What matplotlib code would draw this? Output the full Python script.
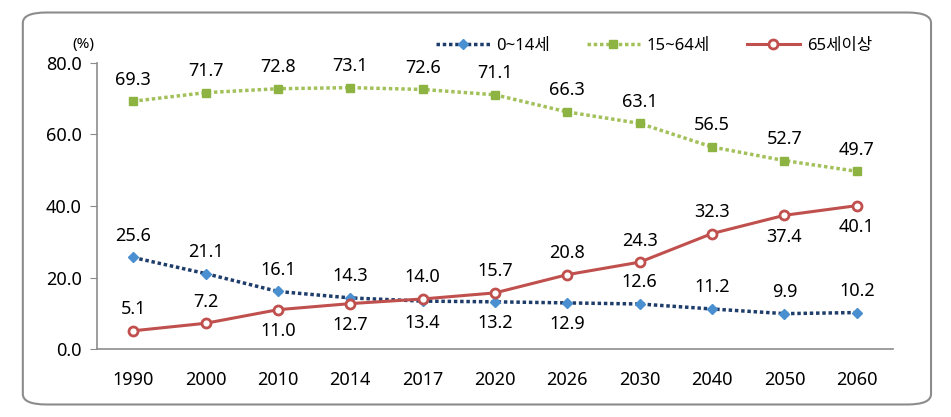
import matplotlib.pyplot as plt
from matplotlib.patches import FancyBboxPatch

plt.rcParams['font.family'] = ['Noto Sans', 'Noto Sans CJK KR', 'DejaVu Sans']

years = ['1990', '2000', '2010', '2014', '2017', '2020', '2026', '2030', '2040', '2050', '2060']
child = [25.6, 21.1, 16.1, 14.3, 13.4, 13.2, 12.9, 12.6, 11.2, 9.9, 10.2]
working = [69.3, 71.7, 72.8, 73.1, 72.6, 71.1, 66.3, 63.1, 56.5, 52.7, 49.7]
elderly = [5.1, 7.2, 11.0, 12.7, 14.0, 15.7, 20.8, 24.3, 32.3, 37.4, 40.1]
# label above (1) or below (-1) the point
child_side = [1, 1, 1, 1, -1, -1, -1, 1, 1, 1, 1]
elderly_side = [1, 1, -1, -1, 1, 1, 1, 1, 1, -1, -1]

fig = plt.figure(figsize=(9.51, 4.17), dpi=100)
box = FancyBboxPatch((0.024, 0.03), 0.955, 0.94, boxstyle='round,pad=0,rounding_size=0.025',
                     transform=fig.transFigure, fill=False, edgecolor='#8c8c8c', lw=1.5)
fig.patches.append(box)

ax = fig.add_axes([0.102, 0.163, 0.837, 0.686])
x = list(range(len(years)))

ax.plot(x, child, color='#1f3d6b', ls=(0, (1, 0.8)), lw=2.5, marker='D', ms=5.5,
        mfc='#4a8fd0', mec='#4a8fd0', label='0~14세')
ax.plot(x, working, color='#a3c15a', ls=(0, (1, 0.8)), lw=2.5, marker='s', ms=5.5,
        mfc='#8db443', mec='#8db443', label='15~64세')
ax.plot(x, elderly, color='#c0504d', lw=2.2, marker='o', ms=6.5, mfc='white',
        mec='#c0504d', mew=2, label='65세이상')

fs = 13
for i in x:
    ax.annotate(f'{working[i]:.1f}', (i, working[i]), xytext=(0, 9), textcoords='offset points',
                ha='center', va='bottom', fontsize=fs)
    ax.annotate(f'{child[i]:.1f}', (i, child[i]), xytext=(0, 9 * child_side[i]),
                textcoords='offset points', ha='center',
                va='bottom' if child_side[i] > 0 else 'top', fontsize=fs)
    ax.annotate(f'{elderly[i]:.1f}', (i, elderly[i]), xytext=(0, 9 * elderly_side[i]),
                textcoords='offset points', ha='center',
                va='bottom' if elderly_side[i] > 0 else 'top', fontsize=fs)

ax.set_xlim(-0.5, len(years) - 0.5)
ax.set_ylim(0, 80)
ax.set_yticks([0, 20, 40, 60, 80])
ax.set_yticklabels([f'{v:.1f}' for v in [0, 20, 40, 60, 80]], fontsize=13)
ax.set_xticks(x)
ax.set_xticklabels(years, fontsize=13)
ax.tick_params(axis='x', length=0, pad=16)
ax.tick_params(axis='y', length=5, color='#8c8c8c', pad=6)
for s in ['top', 'right']:
    ax.spines[s].set_visible(False)
for s in ['left', 'bottom']:
    ax.spines[s].set_color('#8c8c8c')
    ax.spines[s].set_linewidth(1.2)
ax.text(-0.003, 1.04, '(%)', transform=ax.transAxes, ha='right', va='bottom', fontsize=11)

ax.legend(loc='lower center', bbox_to_anchor=(0.7, 0.98), ncol=3, frameon=False,
          fontsize=12, handlelength=3.2, columnspacing=2.2, handletextpad=0.4)

fig.savefig('out.png', dpi=100)
